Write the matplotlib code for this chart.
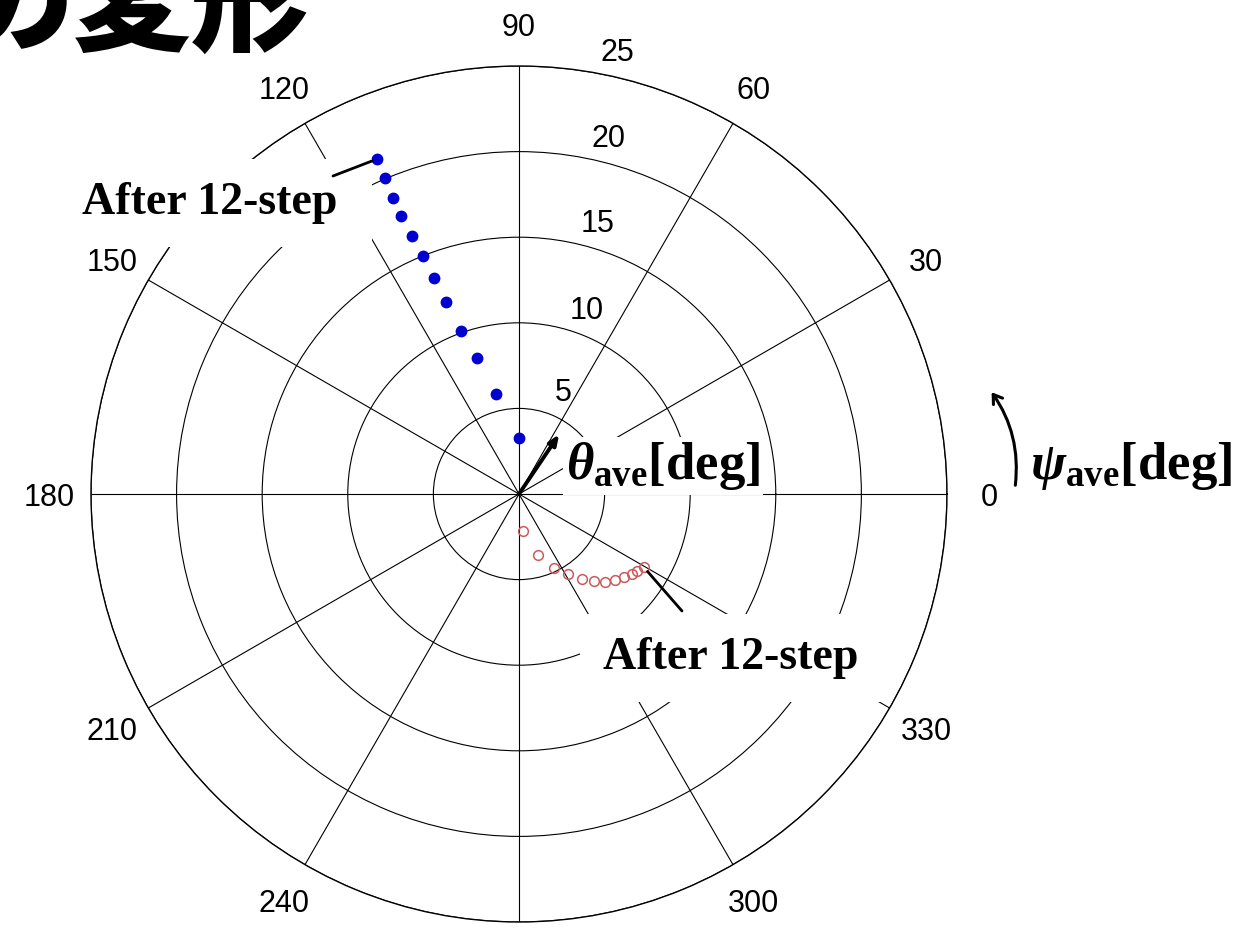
import numpy as np
import matplotlib.pyplot as plt
from matplotlib.patches import FancyArrowPatch

plt.rcParams['mathtext.fontset'] = 'custom'
plt.rcParams['mathtext.rm'] = 'Liberation Serif:bold'
plt.rcParams['mathtext.it'] = 'Liberation Serif:italic:bold'
plt.rcParams['mathtext.bf'] = 'Liberation Serif:bold'

W, H = 1251, 939

# psi_ave [deg] (angle) and theta_ave [deg] (radius), one point per step
blue_psi = [90.0, 103.2, 107.2, 109.5, 110.8, 111.5, 112.0, 112.5, 113.0, 113.0, 112.9, 112.9]
blue_theta = [3.29, 5.98, 8.30, 10.12, 11.98, 13.54, 15.0, 16.31, 17.64, 18.80, 20.05, 21.25]
red_psi = [276.6, 287.0, 295.2, 301.3, 306.4, 310.8, 314.4, 318.1, 321.8, 324.6, 326.9, 329.6]
red_theta = [2.18, 3.73, 4.80, 5.47, 6.17, 6.71, 7.17, 7.53, 7.81, 8.07, 8.24, 8.46]

angle_ticks = [0, 30, 60, 90, 120, 150, 180, 210, 240, 270, 300, 330]
radius_ticks = [5, 10, 15, 20, 25]


def fig_px(x, y):
    # pixel position in the picture -> figure fraction
    return x / W, 1 - y / H


fig = plt.figure(figsize=(W / 100, H / 100), dpi=100)
fig.patch.set_facecolor('white')

# cropped slide title at the top left
fig.text(*fig_px(-45, 42), 'の変形', fontsize=85, fontweight='black',
         family=['Noto Sans CJK JP', 'DejaVu Sans'], ha='left', va='baseline')

ax = fig.add_axes([0.0727, 0.0181, 0.6843, 0.9116], projection='polar')
ax.set_ylim(0, 25)
ax.set_yticks(radius_ticks)
ax.set_yticklabels([])
ax.set_xticks(np.deg2rad(angle_ticks))
ax.set_xticklabels([])
ax.tick_params(length=0)
ax.grid(True, color='black', lw=0.8)
ax.spines['polar'].set_color('black')
ax.spines['polar'].set_linewidth(1.0)

# angle labels around the circle (270 is cropped off in the original)
for a in angle_ticks:
    if a == 270:
        continue
    ax.text(np.deg2rad(a), 27.45, str(a), ha='center', va='center_baseline',
            fontsize=22, family='Liberation Sans')

# radial labels, each placed a little off the 60-90 sector
rlabel_angles = [67, 70, 74, 76, 77.5]
for v, ang in zip(radius_ticks, rlabel_angles):
    ax.text(np.deg2rad(ang), v + 1.6, str(v), ha='center', va='center_baseline',
            fontsize=22, family='Liberation Sans')

ax.plot(np.deg2rad(blue_psi), blue_theta, 'o', color='#0000d0', ms=7.5,
        ls='none', zorder=5)
ax.plot(np.deg2rad(red_psi), red_theta, 'o', mfc='none', mec='#cc5a5a', mew=1.1,
        ms=7, ls='none', zorder=5)

# "After 12-step" callouts: white-boxed text plus a separate leader line
txt_kw = dict(ha='left', va='center', fontsize=33, fontweight='bold',
              family='Liberation Serif', zorder=6, transform=fig.transFigure,
              bbox=dict(boxstyle='square,pad=0.5', fc='white', ec='none'))
ax.text(*fig_px(82, 203), 'After 12-step ', **txt_kw)
ax.text(*fig_px(603, 658), 'After 12-step', **txt_kw)

ax.annotate('', xy=(np.deg2rad(blue_psi[-1]), blue_theta[-1]),
            xytext=fig_px(333, 176), textcoords='figure fraction',
            arrowprops=dict(arrowstyle='-', color='black', lw=2,
                            shrinkA=0, shrinkB=4), zorder=8)
ax.annotate('', xy=(np.deg2rad(red_psi[-1]), red_theta[-1]),
            xytext=fig_px(682, 611), textcoords='figure fraction',
            arrowprops=dict(arrowstyle='-', color='black', lw=2,
                            shrinkA=0, shrinkB=4), zorder=8)

# theta_ave axis label with arrow from the centre
ax.annotate('', xy=(np.deg2rad(56), 4.2), xytext=(0, 0),
            arrowprops=dict(arrowstyle='-|>,head_length=0.6,head_width=0.25',
                            color='black', lw=2.8, shrinkA=0, shrinkB=0),
            zorder=7)
ax.text(*fig_px(566, 466), r'$\theta_{\mathrm{ave}}$[deg]', fontsize=38,
        fontweight='bold', family='Liberation Serif', ha='left', va='center',
        transform=fig.transFigure, zorder=6,
        bbox=dict(boxstyle='square,pad=0.05', fc='white', ec='none'))

# psi_ave label with curved arrow
arr = FancyArrowPatch(fig_px(1015, 488), fig_px(990, 390), transform=fig.transFigure,
                      connectionstyle='arc3,rad=0.2',
                      arrowstyle='->,head_length=6,head_width=4', color='black',
                      lw=2.2)
fig.patches.append(arr)
fig.text(*fig_px(1030, 466), r'$\psi_{\mathrm{ave}}$[deg]', fontsize=38,
         fontweight='bold', family='Liberation Serif', ha='left', va='center')

fig.savefig('out.png', dpi=100)
